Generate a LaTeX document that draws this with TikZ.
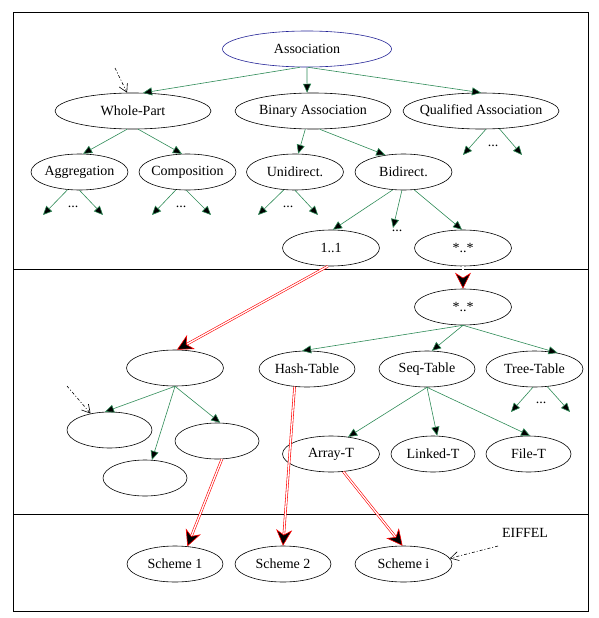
\documentclass[tikz,border=0pt]{standalone}
\usepackage{fontspec}
\setmainfont{Liberation Serif}
\usetikzlibrary{shapes.geometric,arrows.meta}
\definecolor{seagreen}{RGB}{46,139,87}
\definecolor{assocblue}{RGB}{35,35,150}

\begin{document}
\begin{tikzpicture}[x=1pt,y=-1pt,font=\fontsize{14}{16}\selectfont,
  ent/.style={draw, ellipse, line width=0.6pt, minimum width=#1,
    minimum height=36pt, inner xsep=-20pt, inner ysep=0pt},
  ent/.default=97pt,
  isa/.style={draw=seagreen, line width=0.6pt,
    -{Triangle[length=9pt,width=8pt,fill=black]}},
  impl/.style={draw=red, double=white, double distance=1.3pt, line width=0.6pt,
    -{Stealth[length=16pt,width=16pt,inset=5pt,fill=black]}},
  note/.style={black, line width=0.6pt, dash pattern=on 3pt off 2pt on 1pt off 2pt,
    -{Straight Barb[length=8pt,width=9pt]}}]
  \useasboundingbox (0,0) rectangle (598,618);
  % frame and the three layers
  \draw[line width=0.8pt] (13,12) rectangle (588,611);
  \draw[line width=0.8pt] (13,269) -- (588,269);
  \draw[line width=0.8pt] (13,514) -- (588,514);

  % top layer
  \node[ent=169pt, draw=assocblue] (assoc) at (307,49) {Association};
  \node[ent=156pt] (whole) at (133,111) {Whole-Part};
  \node[ent=156pt] (binary) at (313,111) {Binary Association};
  \node[ent=156pt] (qual) at (481,111) {Qualified Association};
  \node[ent] (aggr) at (79.5,172) {Aggregation};
  \node[ent] (comp) at (187.5,172) {Composition};
  \node[ent] (uni) at (295,172) {Unidirect.};
  \node[ent] (bi) at (403.5,172) {Bidirect.};
  \node[ent] (one) at (331,248) {1..1};
  \node[ent] (many) at (463,248) {*..*};

  % middle layer
  \node[ent] (manyB) at (463,307) {*..*};
  \node[ent=96pt] (hash) at (307,369) {Hash-Table};
  \node[ent=96pt] (seq) at (427,369) {Seq-Table};
  \node[ent] (tree) at (534.5,369) {Tree-Table};
  \node[ent] (array) at (331,454) {Array-T};
  \node[ent=84pt] (linked) at (433,454) {Linked-T};
  \node[ent=85pt] (file) at (528.5,454) {File-T};
  \node[ent] (blank) at (175,368) {};
  \node[ent=85pt] (blankL) at (109.5,430) {};
  \node[ent=84pt] (blankB) at (145,478) {};
  \node[ent=84pt] (blankR) at (217,441) {};

  % bottom layer
  \node[ent=96pt] (sch1) at (175,564) {Scheme 1};
  \node[ent=96pt] (sch2) at (283,564) {Scheme 2};
  \node[ent] (schi) at (403.5,564) {Scheme i};
  \node (eiffel) at (525,533) {EIFFEL};

  % open ends and dots
  \foreach \name/\x/\y in {aggrL/43/215, aggrR/103/215, compL/152/215,
    compR/211/215, uniL/258/215, uniR/318/215, qualL/463/155,
    qualR/522/155, biM/393/228, treeL/511/412, treeR/570/412,
    noteW/115/68, noteL/67/386, noteE/498/546}
    \coordinate (\name) at (\x,\y);
  \foreach \name/\x/\y in {aggrD/73/207, compD/181/207, uniD/288/207,
    qualD/493/146, biD/397/231, treeD/541/403}
    \node[inner sep=0pt] (\name) at (\x,\y) {...};

  % specialisation
  \draw[isa] (assoc.250) -- (whole.61);
  \draw[isa] (assoc.south) -- (binary.108);
  \draw[isa] (assoc.273) -- (qual.north);
  \draw[isa] (whole.252) -- (aggr.79);
  \draw[isa] (whole.286) -- (comp.107);
  \draw[isa] (binary.247) -- (uni.80);
  \draw[isa] (binary.290) -- (bi.137);
  \draw[isa] (bi.239) -- (one.84);
  \draw[isa] (bi.301) -- (many.93);
  \foreach \src/\ang/\dst in {aggr/236/aggrL, aggr/270/aggrR, comp/237/compL,
    comp/266/compR, uni/238/uniL, uni/270/uniR, qual/285/qualL,
    qual/316/qualR, bi/265/biM, tree/265/treeL, tree/306/treeR}
    \draw[isa] (\src.\ang) -- (\dst);
  \draw[isa] (manyB.south) -- (hash.105);
  \draw[isa] (manyB.south) -- (seq.75);
  \draw[isa] (manyB.south) -- (tree.35);
  \draw[isa] (seq.south) -- (array.45);
  \draw[isa] (seq.south) -- (linked.77);
  \draw[isa] (seq.south) -- (file.85);
  \draw[isa] (blank.south) -- (blankL.104);
  \draw[isa] (blank.south) -- (blankB.69);
  \draw[isa] (blank.south) -- (blankR.80);

  % implementation
  \draw[impl] (one.260) -- (blank.84);
  \draw[impl] (many.south) -- (manyB.north);
  \draw[impl] (hash.235) -- (sch2.north);
  \draw[impl] (blankR.285) -- (sch1.55);
  \draw[impl] (array.305) -- (schi.93);

  % notes
  \draw[note] (noteW) -- (whole.108);
  \draw[note] (noteL) -- (blankL.139);
  \draw[note] (noteE) -- (schi.7);
\end{tikzpicture}
\end{document}
